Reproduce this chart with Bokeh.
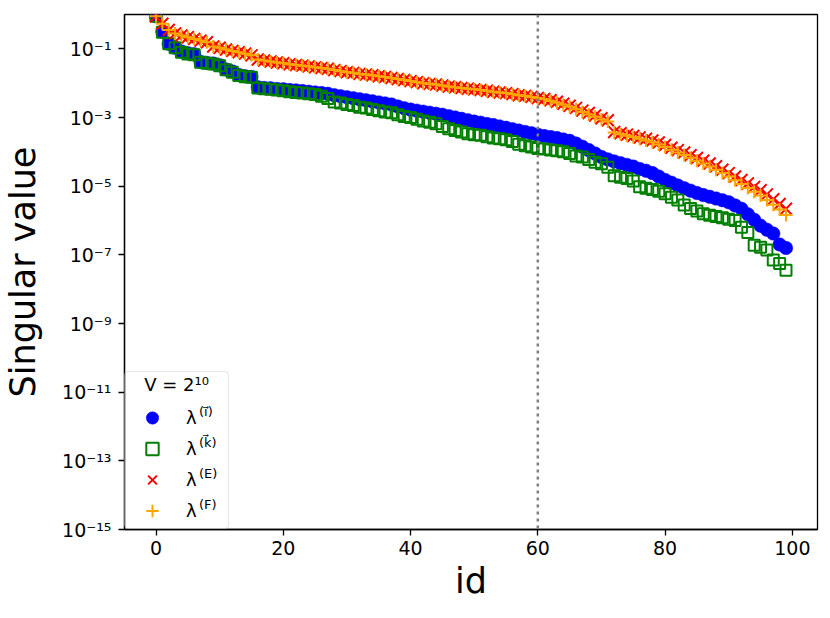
from bokeh.plotting import figure
from bokeh.models import (Range1d, FixedTicker, CustomJSTickFormatter, Span, Legend,
                          LegendItem, Label, ColumnDataSource)
from bokeh.embed import file_html
from bokeh.resources import INLINE

# ---------------- data (log10 of singular values) ----------------
ids = list(range(100))

log_i = [-0.05, -0.50, -0.85, -0.97, -1.08, -1.13, -1.16, -1.38, -1.41, -1.43,
         -1.48, -1.60, -1.66, -1.76, -1.80, -1.82, -2.12, -2.14, -2.15, -2.17,
         -2.18, -2.20, -2.21, -2.23, -2.25, -2.27, -2.29, -2.31, -2.35, -2.38,
         -2.41, -2.44, -2.47, -2.50, -2.53, -2.56, -2.59, -2.62, -2.68, -2.73,
         -2.77, -2.80, -2.83, -2.86, -2.89, -2.92, -2.96, -3.00, -3.04, -3.08,
         -3.12, -3.15, -3.19, -3.22, -3.26, -3.30, -3.34, -3.38, -3.42, -3.46,
         -3.50, -3.54, -3.57, -3.60, -3.64, -3.68, -3.76, -3.85, -3.95, -4.05,
         -4.15, -4.22, -4.28, -4.33, -4.38, -4.43, -4.50, -4.55, -4.62, -4.72,
         -4.82, -4.90, -4.98, -5.06, -5.13, -5.20, -5.26, -5.31, -5.36, -5.41,
         -5.47, -5.56, -5.66, -5.82, -5.98, -6.15, -6.27, -6.38, -6.70, -6.80]

log_k = [-0.05, -0.52, -0.85, -0.97, -1.10, -1.15, -1.17, -1.39, -1.42, -1.44,
         -1.49, -1.61, -1.68, -1.78, -1.81, -1.83, -2.14, -2.16, -2.18, -2.20,
         -2.22, -2.25, -2.27, -2.29, -2.31, -2.33, -2.38, -2.45, -2.55, -2.58,
         -2.62, -2.65, -2.70, -2.72, -2.77, -2.80, -2.84, -2.86, -2.92, -2.97,
         -3.00, -3.05, -3.10, -3.14, -3.18, -3.26, -3.33, -3.38, -3.42, -3.47,
         -3.50, -3.52, -3.56, -3.60, -3.62, -3.65, -3.70, -3.78, -3.82, -3.86,
         -3.90, -3.92, -3.95, -3.97, -4.00, -4.05, -4.12, -4.15, -4.22, -4.30,
         -4.35, -4.45, -4.70, -4.74, -4.78, -4.85, -5.02, -5.06, -5.10, -5.15,
         -5.22, -5.32, -5.40, -5.55, -5.65, -5.72, -5.80, -5.85, -5.88, -5.92,
         -5.96, -6.00, -6.20, -6.35, -6.72, -6.78, -6.86, -7.15, -7.25, -7.45]

log_E = [-0.05, -0.27, -0.45, -0.55, -0.61, -0.66, -0.71, -0.76, -0.81, -0.93,
         -0.97, -1.02, -1.06, -1.10, -1.14, -1.19, -1.31, -1.34, -1.37, -1.40,
         -1.42, -1.45, -1.47, -1.49, -1.51, -1.54, -1.56, -1.58, -1.62, -1.65,
         -1.68, -1.70, -1.73, -1.75, -1.77, -1.80, -1.82, -1.85, -1.88, -1.91,
         -1.94, -1.97, -2.00, -2.02, -2.04, -2.07, -2.10, -2.12, -2.14, -2.16,
         -2.18, -2.20, -2.22, -2.25, -2.27, -2.29, -2.32, -2.35, -2.37, -2.40,
         -2.43, -2.46, -2.50, -2.54, -2.60, -2.66, -2.72, -2.80, -2.87, -2.94,
         -3.02, -3.08, -3.42, -3.46, -3.50, -3.54, -3.58, -3.62, -3.67, -3.73,
         -3.80, -3.88, -3.95, -4.02, -4.10, -4.18, -4.26, -4.34, -4.42, -4.52,
         -4.62, -4.72, -4.82, -4.92, -5.02, -5.12, -5.24, -5.38, -5.52, -5.66]

log_F = [-0.05, -0.27, -0.45, -0.55, -0.61, -0.66, -0.71, -0.76, -0.81, -0.93,
         -0.97, -1.02, -1.06, -1.10, -1.14, -1.19, -1.31, -1.34, -1.37, -1.40,
         -1.42, -1.45, -1.47, -1.49, -1.51, -1.54, -1.56, -1.58, -1.62, -1.65,
         -1.68, -1.70, -1.73, -1.75, -1.77, -1.80, -1.82, -1.85, -1.88, -1.91,
         -1.94, -1.97, -2.00, -2.02, -2.04, -2.07, -2.10, -2.12, -2.14, -2.16,
         -2.18, -2.20, -2.22, -2.25, -2.27, -2.29, -2.32, -2.35, -2.37, -2.40,
         -2.44, -2.47, -2.52, -2.57, -2.63, -2.69, -2.76, -2.84, -2.91, -2.98,
         -3.06, -3.12, -3.44, -3.49, -3.53, -3.57, -3.62, -3.67, -3.72, -3.79,
         -3.86, -3.94, -4.02, -4.09, -4.17, -4.26, -4.34, -4.43, -4.52, -4.62,
         -4.72, -4.83, -4.94, -5.05, -5.16, -5.27, -5.40, -5.54, -5.68, -5.84]

x_ticks = [0, 20, 40, 60, 80, 100]
y_ticks = [1e-15, 1e-13, 1e-11, 1e-9, 1e-7, 1e-5, 1e-3, 1e-1]
cut_id = 60
legend_title = "\u00a0\u00a0\u00a0V = 2¹⁰"
legend_labels = ["λ", "λ", "λ", "λ"]
legend_sups = ["(i⃗)", "(k⃗)", "(E)", "(F)"]

# ---------------- figure ----------------
FONT = "DejaVu Sans"

p = figure(width=830, height=618, output_backend="svg", toolbar_location=None,
           y_axis_type="log",
           x_range=Range1d(-4.95, 103.95), y_range=Range1d(1e-15, 1.0),
           min_border_left=123, min_border_right=13, min_border_top=14, min_border_bottom=89)

p.xgrid.visible = False
p.ygrid.visible = False
p.outline_line_color = "black"
p.outline_line_width = 1.3
p.background_fill_color = "white"
p.border_fill_color = "white"

for ax in (p.xaxis[0], p.yaxis[0]):
    ax.axis_line_color = "black"
    ax.axis_line_width = 1.3
    ax.major_tick_line_color = "black"
    ax.major_tick_line_width = 1.3
    ax.major_tick_out = 6
    ax.major_tick_in = 0
    ax.minor_tick_line_color = None
    ax.major_label_text_font = FONT
    ax.major_label_text_font_size = "19px"
    ax.major_label_text_color = "black"
    ax.axis_label_text_font = FONT
    ax.axis_label_text_font_size = "35px"
    ax.axis_label_text_font_style = "normal"
    ax.axis_label_text_color = "black"

p.xaxis.ticker = FixedTicker(ticks=x_ticks)
p.yaxis.ticker = FixedTicker(ticks=y_ticks)
p.yaxis.formatter = CustomJSTickFormatter(code="""
const sup = {'-':'\u207b','0':'\u2070','1':'\u00b9','2':'\u00b2','3':'\u00b3','4':'\u2074',
             '5':'\u2075','6':'\u2076','7':'\u2077','8':'\u2078','9':'\u2079'};
const e = Math.round(Math.log10(tick));
return '10' + String(e).split('').map(c => sup[c]).join('');
""")
p.xaxis.axis_label = "id"
p.yaxis.axis_label = "Singular value"
p.xaxis.major_label_standoff = 5
p.yaxis.major_label_standoff = 7
p.xaxis.axis_label_standoff = 3
p.yaxis.axis_label_standoff = 16

src = ColumnDataSource(data=dict(
    id=ids,
    i=[10 ** v for v in log_i],
    k=[10 ** v for v in log_k],
    E=[10 ** v for v in log_E],
    F=[10 ** v for v in log_F],
))

r_i = p.scatter("id", "i", source=src, marker="circle", size=13.5,
                fill_color="#0000ff", line_color="#0000ff", line_width=0.5)
r_k = p.scatter("id", "k", source=src, marker="square", size=11,
                fill_color=None, line_color="#008000", line_width=2)
r_E = p.scatter("id", "E", source=src, marker="x", size=17,
                line_color="#ff0000", line_width=2)
r_F = p.scatter("id", "F", source=src, marker="cross", size=13,
                line_color="#ffa500", line_width=2)

p.add_layout(Span(location=cut_id, dimension="height", line_color="#808080",
                  line_width=2.5, line_dash="3 4"))

legend = Legend(items=[LegendItem(label=legend_labels[j], renderers=[r])
                       for j, r in enumerate([r_i, r_k, r_E, r_F])],
                location="bottom_left", margin=0, padding=2, spacing=0,
                glyph_width=50, glyph_height=31, label_standoff=9, label_width=40,
                label_text_font=FONT, label_text_font_size="18px", label_text_color="black",
                title=legend_title, title_text_font=FONT, title_text_font_size="18px",
                title_text_font_style="normal", title_text_color="black", title_standoff=7,
                border_line_color="#cccccc", border_line_width=1,
                background_fill_color="white", background_fill_alpha=0.0)
if "border_radius" in Legend.properties():
    legend.border_radius = 4
p.add_layout(legend, "center")

# superscripts of the legend labels
sup_y = [10 ** -11.55, 10 ** -12.46, 10 ** -13.36, 10 ** -14.26]
for j, s in enumerate(legend_sups):
    p.add_layout(Label(x=6.75, y=sup_y[j], text=s, text_font=FONT, level="overlay",
                       text_font_size="13px", text_baseline="middle", text_color="black"))

open("out.html", "w").write(file_html(p, INLINE))
